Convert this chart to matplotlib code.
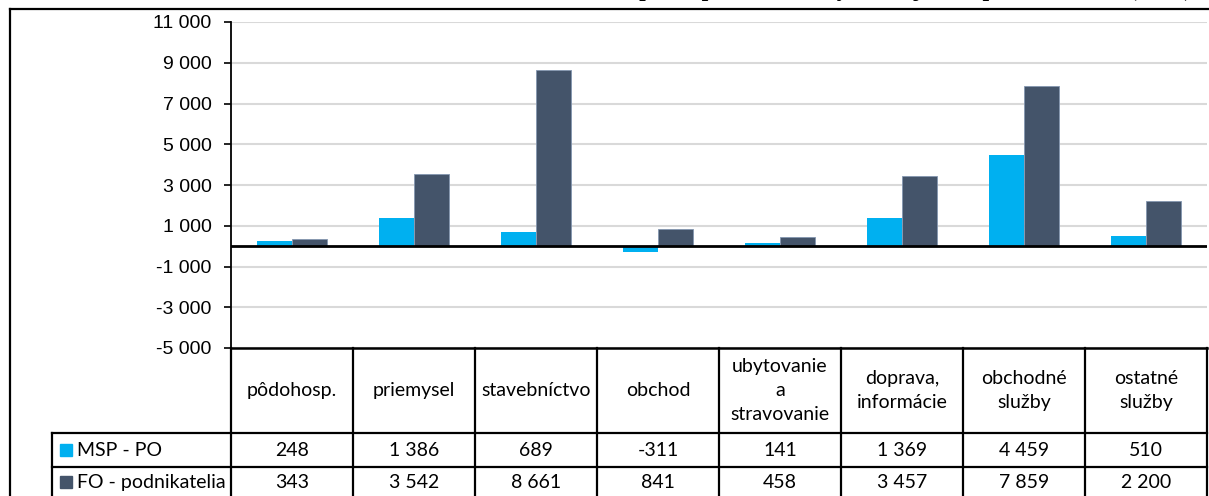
import matplotlib
matplotlib.use("Agg")
import matplotlib.pyplot as plt
import matplotlib.transforms as mtransforms
from matplotlib.patches import Rectangle
from matplotlib.lines import Line2D
from matplotlib.ticker import FuncFormatter, FixedLocator
import numpy as np

# ---- data ----
categories = ["pôdohosp.", "priemysel", "stavebníctvo", "obchod",
              "ubytovanie\na\nstravovanie", "doprava,\ninformácie",
              "obchodné\nslužby", "ostatné\nslužby"]
series_names = ["MSP - PO", "FO - podnikatelia"]
msp_po = [248, 1386, 689, -311, 141, 1369, 4459, 510]
fo_podnikatelia = [343, 3542, 8661, 841, 458, 3457, 7859, 2200]
y_ticks = [-5000, -3000, -1000, 1000, 3000, 5000, 7000, 9000, 11000]
title_text = "Medziročná zmena počtu podnikateľských subjektov podľa odvetví (2019)"

colors = ["#00B0F0", "#44546A"]

W, H = 1209, 496
fig = plt.figure(figsize=(W / 100, H / 100), dpi=100)
fig.patch.set_facecolor("white")

ax_left, ax_right, ax_top, ax_bot = 231, 1207, 22, 348
ax = fig.add_axes([ax_left / W, 1 - ax_bot / H, (ax_right - ax_left) / W, (ax_bot - ax_top) / H])

n = len(categories)
x = np.arange(n)
bw = 0.283
ax.bar(x - bw / 2, msp_po, width=bw, color=colors[0], zorder=3)
ax.bar(x + bw / 2, fo_podnikatelia, width=bw, color=colors[1], zorder=3,
       edgecolor="#8496B0", linewidth=0.6)

ax.set_xlim(-0.5, n - 0.5)
ax.set_ylim(y_ticks[0], y_ticks[-1])
ax.yaxis.set_major_locator(FixedLocator(y_ticks))
ax.yaxis.set_major_formatter(FuncFormatter(lambda v, p: f"{v:,.0f}".replace(",", " ")))
ax.set_xticks([])
ax.grid(axis="y", color="#D9D9D9", linewidth=1.5, zorder=0)
ax.axhline(0, color="black", linewidth=2, zorder=4)
for s in ["top", "right"]:
    ax.spines[s].set_visible(False)
ax.spines["left"].set_linewidth(1.3)
ax.spines["bottom"].set_linewidth(1.8)
ax.tick_params(axis="y", length=5, width=1.2, pad=9, labelsize=14, direction="out")
for lab in ax.get_yticklabels():
    lab.set_fontfamily("Liberation Sans")

# ---- data table below the axes ----
px_per_unit = (ax_right - ax_left) / n
axh = ax_bot - ax_top
tr = mtransforms.blended_transform_factory(ax.transData, ax.transAxes)

def yax(py):
    return (ax_bot - py) / axh

y_head = yax(433)
y_r1 = yax(467)
y_r2 = yax(501)
x_leg = -0.5 - (ax_left - 52) / px_per_unit
lw_t = 1.6
tfont = "Lato"
tsize = 14

# vertical lines
for k in range(n + 1):
    ax.add_line(Line2D([k - 0.5, k - 0.5], [0, y_r2], transform=tr, color="black",
                       lw=lw_t, clip_on=False))
ax.add_line(Line2D([x_leg, x_leg], [y_head, y_r2], transform=tr, color="black",
                   lw=lw_t, clip_on=False))
for yy in [y_head, y_r1, y_r2]:
    ax.add_line(Line2D([x_leg, n - 0.5], [yy, yy], transform=tr, color="black",
                       lw=lw_t, clip_on=False))

for i, c in enumerate(categories):
    ax.text(i, (0 + y_head) / 2, c, transform=tr, ha="center", va="center",
            fontsize=tsize, family=tfont, linespacing=1.48, clip_on=False)

rows = [msp_po, fo_podnikatelia]
row_y = [(y_head + y_r1) / 2, (y_r1 + y_r2) / 2 + 0.005]
for r, vals in enumerate(rows):
    for i, v in enumerate(vals):
        ax.text(i, row_y[r], f"{v:,}".replace(",", " "), transform=tr, ha="center",
                va="center", fontsize=tsize, family=tfont, clip_on=False)
    # legend key + label
    sq = 12 / px_per_unit
    ax.add_patch(Rectangle((x_leg + 8 / px_per_unit, row_y[r] - 6 / axh), sq, 12 / axh,
                           transform=tr, color=colors[r], clip_on=False))
    ax.text(x_leg + 25 / px_per_unit, row_y[r], series_names[r], transform=tr,
            ha="left", va="center", fontsize=tsize, family=tfont, clip_on=False)

# ---- outer frame (top + left) ----
fig.add_artist(Line2D([10 / W, 1.0], [1 - 9 / H, 1 - 9 / H], transform=fig.transFigure,
                      color="black", lw=1.6))
fig.add_artist(Line2D([10 / W, 10 / W], [0, 1 - 9 / H], transform=fig.transFigure,
                      color="black", lw=1.6))

# ---- clipped title (only its lowest part is inside the picture, as in the reference) ----
fig.text(0.675, 1 + 4.2 / H, title_text, ha="center", va="baseline", fontsize=17,
         fontweight="bold", family="Liberation Serif")

fig.savefig("out.png", dpi=100)
